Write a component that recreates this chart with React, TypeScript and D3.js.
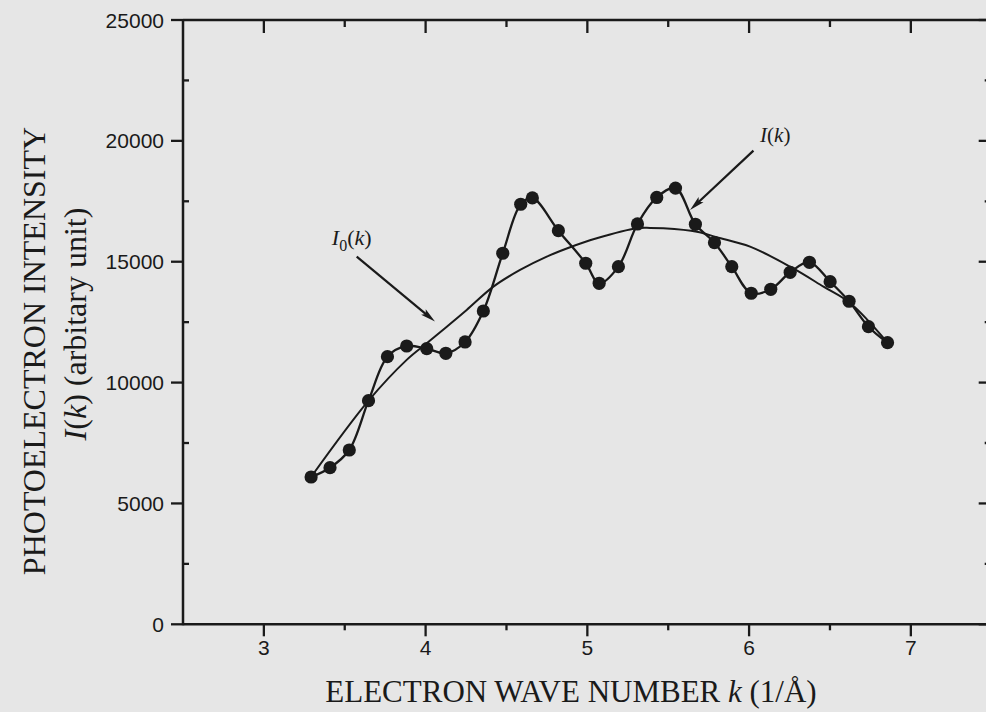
import React from 'react';
import * as d3 from 'd3';

// Measured photoelectron intensity I(k)
const kValues = [3.292, 3.409, 3.528, 3.647, 3.764, 3.883, 4.007, 4.125, 4.244, 4.357, 4.477, 4.588, 4.66, 4.821, 4.99, 5.073, 5.192, 5.31, 5.429, 5.545, 5.668, 5.786, 5.893, 6.013, 6.134, 6.254, 6.373, 6.501, 6.618, 6.738, 6.856];
const intensity = [6094, 6479, 7211, 9251, 11072, 11514, 11403, 11212, 11680, 12962, 15350, 17377, 17638, 16285, 14936, 14108, 14795, 16562, 17658, 18047, 16549, 15788, 14795, 13695, 13860, 14563, 14977, 14175, 13364, 12313, 11651];

// Smooth background I0(k)
const fitK = [3.292, 3.647, 3.883, 4.007, 4.131, 4.254, 4.419, 4.584, 4.749, 4.893, 5.058, 5.306, 5.388, 5.47, 5.677, 5.8, 6.006, 6.254, 6.46, 6.626, 6.856];
const fitIntensity = [6094, 9251, 10940, 11626, 12313, 13004, 13968, 14659, 15209, 15598, 15970, 16384, 16400, 16384, 16243, 16012, 15622, 14795, 13968, 13281, 11651];

const xMajorTicks = [3, 4, 5, 6, 7];
const xMinorTicks = [3.5, 4.5, 5.5, 6.5];
const yMajorTicks = [0, 5000, 10000, 15000, 20000, 25000];
const yMinorTicks = [2500, 7500, 12500, 17500, 22500];

const xTitle = 'ELECTRON WAVE NUMBER ';
const yTitle1 = 'PHOTOELECTRON INTENSITY';
const yTitle2 = ' (arbitary unit)';

// annotation anchors in data units
const i0Arrow = { from: [3.574, 15209], to: [4.058, 12523] };
const i0Label = [3.42, 15693];
const ikArrow = { from: [6.027, 19594], to: [5.635, 17142] };
const ikLabel = [6.068, 19967];

const W = 986;
const H = 712;
const INK = '#1a1a1a';
const SERIF = '"Liberation Serif", "Times New Roman", serif';
const SANS = '"Liberation Sans", Arial, sans-serif';

function Arrow({ x1, y1, x2, y2 }: { x1: number; y1: number; x2: number; y2: number }) {
  const dx = x2 - x1;
  const dy = y2 - y1;
  const len = Math.hypot(dx, dy);
  const ux = dx / len;
  const uy = dy / len;
  const hl = 15;
  const hw = 3.6;
  const bx = x2 - ux * hl;
  const by = y2 - uy * hl;
  const pts = [
    [x2, y2],
    [bx - uy * hw, by + ux * hw],
    [bx + ux * 3, by + uy * 3],
    [bx + uy * hw, by - ux * hw],
  ];
  return (
    <g>
      <line x1={x1} y1={y1} x2={bx + ux * 4} y2={by + uy * 4} stroke={INK} strokeWidth={2.2} />
      <polygon points={pts.map((p) => p.join(',')).join(' ')} fill={INK} />
    </g>
  );
}

export default function App() {
  const x = d3.scaleLinear().domain([2.5, 7.5]).range([183, 991.7]);
  const y = d3.scaleLinear().domain([0, 25000]).range([624.3, 20]);
  const x0 = x(2.5);
  const x1 = x(7.5);
  const y0 = y(0);
  const y1 = y(25000);

  const dataPts: [number, number][] = kValues.map((k, i) => [x(k), y(intensity[i])]);
  const fitPts: [number, number][] = fitK.map((k, i) => [x(k), y(fitIntensity[i])]);
  const lineGen = d3.line().curve(d3.curveCatmullRom.alpha(0.5));

  return (
    <svg width={W} height={H} style={{ position: 'absolute', left: 0, top: 0 }}>
      <rect x={0} y={0} width={W} height={H} fill="#e6e6e6" />

      {/* frame */}
      <g stroke={INK} strokeWidth={2.5} fill="none">
        <line x1={x0} y1={y0} x2={x1} y2={y0} />
        <line x1={x0} y1={y1} x2={x1} y2={y1} />
        <line x1={x0} y1={y0 + 1} x2={x0} y2={y1 - 1} />
        <line x1={x1} y1={y0} x2={x1} y2={y1} />
      </g>

      {/* ticks */}
      <g stroke={INK} strokeWidth={2.3}>
        {xMajorTicks.map((t) => (
          <g key={'xm' + t}>
            <line x1={x(t)} x2={x(t)} y1={y0} y2={y0 + 12} />
            <line x1={x(t)} x2={x(t)} y1={y1} y2={y1 + 13} />
          </g>
        ))}
        {xMinorTicks.map((t) => (
          <g key={'xn' + t}>
            <line x1={x(t)} x2={x(t)} y1={y0} y2={y0 + 6} />
            <line x1={x(t)} x2={x(t)} y1={y1} y2={y1 + 7} />
          </g>
        ))}
        {yMajorTicks.map((t) => (
          <g key={'ym' + t}>
            <line x1={x0 - 12} x2={x0} y1={y(t)} y2={y(t)} />
            <line x1={x1 - 13} x2={x1} y1={y(t)} y2={y(t)} />
          </g>
        ))}
        {yMinorTicks.map((t) => (
          <g key={'yn' + t}>
            <line x1={x0} x2={x0 + 6} y1={y(t)} y2={y(t)} />
            <line x1={x1 - 7} x2={x1} y1={y(t)} y2={y(t)} />
          </g>
        ))}
      </g>

      {/* tick labels */}
      <g fill={INK} fontFamily={SANS} fontSize={21}>
        {xMajorTicks.map((t) => (
          <text key={'xl' + t} x={x(t)} y={y0 + 31} textAnchor="middle">
            {t}
          </text>
        ))}
        {yMajorTicks.map((t) => (
          <text key={'yl' + t} x={x0 - 19} y={y(t) + 7.5} textAnchor="end">
            {t}
          </text>
        ))}
      </g>

      {/* axis titles */}
      <text x={571} y={702} textAnchor="middle" fontFamily={SERIF} fontSize={31} fill={INK}>
        {xTitle}
        <tspan fontStyle="italic">k</tspan>
        {'  (1/Å)'}
      </text>
      <g transform={`translate(45, 351) rotate(-90)`}>
        <text x={0} y={0} textAnchor="middle" fontFamily={SERIF} fontSize={32} fill={INK}>
          {yTitle1}
        </text>
      </g>
      <g transform={`translate(86, 324) rotate(-90)`}>
        <text x={0} y={0} textAnchor="middle" fontFamily={SERIF} fontSize={32} fill={INK}>
          <tspan fontStyle="italic">I</tspan>
          {'('}
          <tspan fontStyle="italic">k</tspan>
          {')'}
          {yTitle2}
        </text>
      </g>

      {/* I0(k) smooth curve */}
      <path d={lineGen(fitPts) || ''} fill="none" stroke={INK} strokeWidth={2} />
      {/* I(k) data line */}
      <path d={lineGen(dataPts) || ''} fill="none" stroke={INK} strokeWidth={2.3} />
      {dataPts.map((p, i) => (
        <circle key={'c' + i} cx={p[0]} cy={p[1]} r={6.6} fill={INK} />
      ))}

      {/* annotations */}
      <Arrow x1={x(i0Arrow.from[0])} y1={y(i0Arrow.from[1])} x2={x(i0Arrow.to[0])} y2={y(i0Arrow.to[1])} />
      <Arrow x1={x(ikArrow.from[0])} y1={y(ikArrow.from[1])} x2={x(ikArrow.to[0])} y2={y(ikArrow.to[1])} />
      <text x={x(i0Label[0])} y={y(i0Label[1])} fontFamily={SERIF} fontSize={22} fill={INK}>
        <tspan fontStyle="italic">I</tspan>
        <tspan fontSize={16} dy={6}>0</tspan>
        <tspan dy={-6}>(</tspan>
        <tspan fontStyle="italic">k</tspan>
        <tspan>)</tspan>
      </text>
      <text x={x(ikLabel[0])} y={y(ikLabel[1])} fontFamily={SERIF} fontSize={21} fill={INK}>
        <tspan fontStyle="italic">I</tspan>
        <tspan>(</tspan>
        <tspan fontStyle="italic">k</tspan>
        <tspan>)</tspan>
      </text>
    </svg>
  );
}
